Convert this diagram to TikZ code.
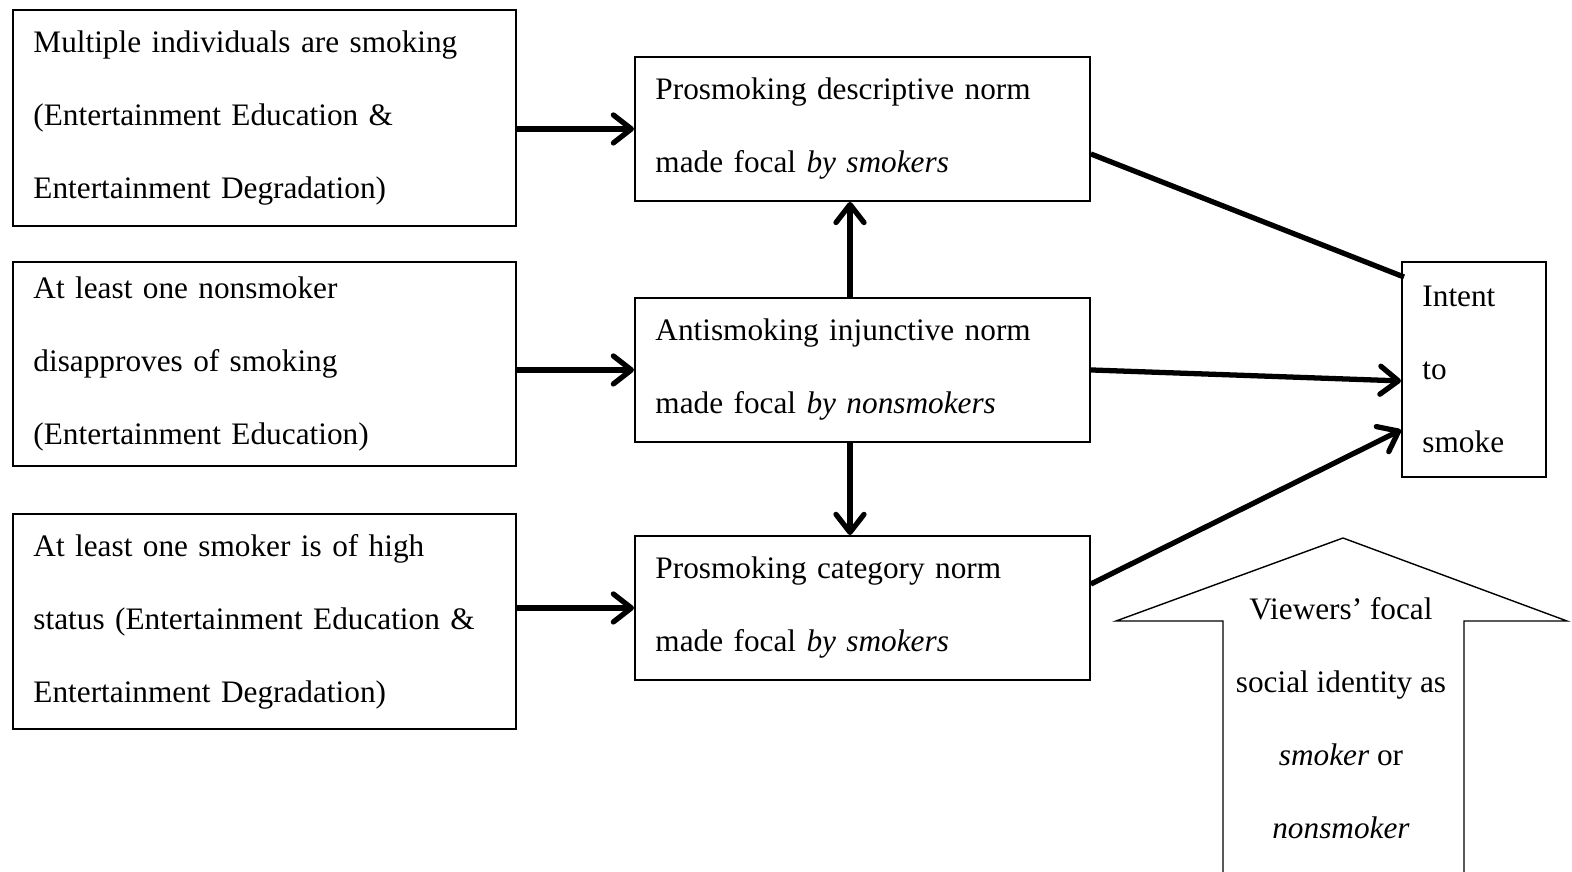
\documentclass[tikz,border=0pt]{standalone}
\usepackage{fontspec}
\setmainfont{Liberation Serif}
\usetikzlibrary{arrows.meta,calc}
\begin{document}
\begin{tikzpicture}[x=0.02cm,y=-0.02cm,
  txt/.style={font=\fontsize{17.8}{41.5}\selectfont},
  box/.style={txt,draw,line width=1.1pt,anchor=north west,align=left,inner xsep=0.41cm,inner ysep=0pt},
  abox/.style={box,minimum width=10.06cm,text width=9.24cm},
  bbox/.style={box,minimum width=9.1cm,minimum height=2.88cm,text width=8.28cm},
  conn/.style={line width=3pt,-{Straight Barb[length=0.36cm,width=0.56cm,line cap=round,line join=round]}},
  plain/.style={line width=3pt}]
\useasboundingbox (0,0) rectangle (1572,872);
\node[abox,minimum height=4.32cm] (A1) at (12,9) {Multiple individuals are smoking\\(Entertainment Education \&\\Entertainment Degradation)};
\node[abox,minimum height=4.08cm] (A2) at (12,261) {At least one nonsmoker\\disapproves of smoking\\(Entertainment Education)};
\node[abox,minimum height=4.3cm] (A3) at (12,513) {At least one smoker is of high\\status (Entertainment Education \&\\Entertainment Degradation)};
\node[bbox] (B1) at (634,56) {Prosmoking descriptive norm\\made focal \textit{by smokers}};
\node[bbox] (B2) at (634,297) {Antismoking injunctive norm\\made focal \textit{by nonsmokers}};
\node[bbox] (B3) at (634,535) {Prosmoking category norm\\made focal \textit{by smokers}};
\node[box,minimum width=2.88cm,minimum height=4.3cm,text width=2.06cm] (I) at (1401,261) {Intent\\to\\smoke};
\coordinate (vx) at (850,0);
\draw[conn] (B1.west -| A1.east) -- (B1.west);
\draw[conn] (B2.west -| A2.east) -- (B2.west);
\draw[conn] (B3.west -| A3.east) -- (B3.west);
\draw[conn] (B2.north -| vx) -- (B1.south -| vx);
\draw[conn] (B2.south -| vx) -- (B3.north -| vx);
\draw[plain] ($(B1.east)+(0,25)$) -- ($(I.north west)+(3,16)$);
\draw[conn] (B2.east) -- ($(I.west)+(0,11.5)$);
\draw[conn] ($(B3.north east)+(0,49)$) -- ($(I.west)+(0,60.5)$);
\draw[line width=0.8pt,line join=miter] (1223,880) -- (1223,621) -- (1116,621) -- (1343,538) -- (1567,621) -- (1464,621) -- (1464,880);
\node[txt,align=center] (V) at (1341,718) {Viewers' focal\\social identity as\\\textit{smoker} or\\\textit{nonsmoker}};
\end{tikzpicture}
\end{document}
